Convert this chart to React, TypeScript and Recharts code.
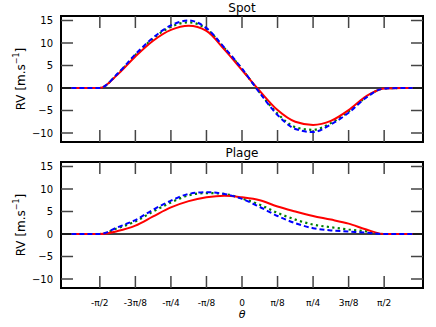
import React from "react";
import { LineChart, Line, XAxis, YAxis, ReferenceLine, ReferenceArea } from "recharts";

// theta sample positions, in units of pi/8
const thetaEighths = [-4.8, -4.5, -4, -3.5, -3, -2.5, -2, -1.5, -1, -0.5, 0, 0.5, 1, 1.5, 2, 2.5, 3, 3.5, 4, 4.5, 4.8];

const spotRed = [0, 0, 0, 3.0, 7.0, 10.5, 12.9, 13.85, 12.7, 8.6, 4.0, -0.65, -4.9, -7.5, -8.2, -7.3, -4.9, -1.8, -0.1, 0, 0];
const spotGreen = [0, 0, 0, 3.1, 7.3, 11.0, 13.6, 14.6, 13.1, 8.9, 4.2, -1.0, -5.7, -8.7, -9.3, -7.8, -5.2, -2.0, -0.1, 0, 0];
const spotBlue = [0, 0, 0, 3.2, 7.5, 11.2, 13.9, 15.0, 13.3, 9.0, 4.3, -1.1, -6.0, -9.1, -9.8, -8.1, -5.5, -2.1, -0.1, 0, 0];

const plageRed = [0, 0, 0, 0.65, 1.85, 3.9, 5.9, 7.3, 8.15, 8.5, 8.15, 7.5, 6.1, 5.0, 4.0, 3.2, 2.3, 1.0, 0, 0, 0];
const plageGreen = [0, 0, 0, 1.3, 2.8, 5.0, 7.0, 8.6, 9.1, 8.9, 7.9, 6.5, 4.7, 3.2, 2.1, 1.5, 1.0, 0.6, 0, 0, 0];
const plageBlue = [0, 0, 0, 1.5, 3.1, 5.4, 7.4, 8.9, 9.3, 8.9, 7.8, 6.0, 4.0, 2.4, 1.3, 0.8, 0.55, 0.3, 0, 0, 0];

const xTickEighths = [-4, -3, -2, -1, 0, 1, 2, 3, 4];
const xTickLabels = ["-π/2", "-3π/8", "-π/4", "-π/8", "0", "π/8", "π/4", "3π/8", "π/2"];
const yTicks = [-10, -5, 0, 5, 10, 15];

const X_MIN = -2;
const X_MAX = 2;
const Y_MIN = -12;
const Y_MAX = 16;
// inward tick length (~12px) expressed in data units
const X_TICK_LEN = 2.67;
const Y_TICK_LEN = 0.133;

const xTicks = xTickEighths.map((k) => (k * Math.PI) / 8);
const FONT = "DejaVu Sans";
const TICK = "#444";

const fmtX = (v: number) => {
  const i = xTicks.findIndex((t) => Math.abs(t - v) < 1e-6);
  return i >= 0 ? xTickLabels[i] : "";
};
const fmtY = (v: number) => (v < 0 ? "\u2212" + Math.abs(v) : String(v));

const RvLabel = (props: any) => {
  const vb = props.viewBox || {};
  const cx = 21;
  const cy = vb.y + vb.height / 2;
  return (
    <text
      x={cx}
      y={cy}
      transform={`rotate(-90 ${cx} ${cy})`}
      textAnchor="middle"
      dominantBaseline="central"
      fontFamily={FONT}
      fontSize={12}
      fill="#000"
    >
      RV [m.s
      <tspan fontSize={8} dy={-5}>
        −1
      </tspan>
      <tspan dy={5}>]</tspan>
    </text>
  );
};

type PanelProps = {
  title: string;
  titleOffset: number;
  red: number[];
  green: number[];
  blue: number[];
  top: number;
  height: number;
  marginTop: number;
  bottomHeight: number;
  showLabels: boolean;
};

const Panel = ({ title, titleOffset, red, green, blue, top, height, marginTop, bottomHeight, showLabels }: PanelProps) => {
  const rows = thetaEighths.map((k, i) => ({
    theta: (k * Math.PI) / 8,
    red: red[i],
    green: green[i],
    blue: blue[i],
  }));
  return (
    <div style={{ position: "absolute", left: 0, top, width: 436, height }}>
      <LineChart width={436} height={height} data={rows} margin={{ top: marginTop, right: 13, bottom: 0, left: 0 }}>
        <XAxis
          dataKey="theta"
          type="number"
          domain={[X_MIN, X_MAX]}
          allowDataOverflow
          ticks={xTicks}
          interval={0}
          height={bottomHeight}
          tickSize={0}
          tickMargin={12}
          tickFormatter={fmtX}
          tick={showLabels ? { fontSize: 9, fill: "#000", fontFamily: FONT } : false}
          tickLine={false}
          axisLine={false}
          label={
            showLabels
              ? { value: "θ", position: "insideBottom", offset: 9, fontSize: 11, fontStyle: "italic", fill: "#000", fontFamily: FONT }
              : undefined
          }
        />
        <YAxis
          type="number"
          domain={[Y_MIN, Y_MAX]}
          allowDataOverflow
          ticks={yTicks}
          interval={0}
          width={61}
          tickSize={0}
          tickMargin={8}
          tickFormatter={fmtY}
          tick={{ fontSize: 10, fill: "#000", fontFamily: FONT }}
          tickLine={false}
          axisLine={false}
          label={<RvLabel />}
        />
        {xTicks.map((t) => (
          <ReferenceLine
            key={"xt" + t}
            ifOverflow="visible"
            segment={[
              { x: t, y: Y_MAX },
              { x: t, y: Y_MAX - X_TICK_LEN },
            ]}
            stroke={TICK}
            strokeWidth={1.5}
          />
        ))}
        {yTicks.map((v) => (
          <ReferenceLine
            key={"yl" + v}
            ifOverflow="visible"
            segment={[
              { x: X_MIN, y: v },
              { x: X_MIN + Y_TICK_LEN, y: v },
            ]}
            stroke={TICK}
            strokeWidth={1.5}
          />
        ))}
        {xTicks.map((t) => (
          <ReferenceLine
            key={"xb" + t}
            ifOverflow="visible"
            segment={[
              { x: t, y: Y_MIN },
              { x: t, y: Y_MIN + X_TICK_LEN },
            ]}
            stroke={TICK}
            strokeWidth={1.5}
          />
        ))}
        {yTicks.map((v) => (
          <ReferenceLine
            key={"yr" + v}
            ifOverflow="visible"
            segment={[
              { x: X_MAX, y: v },
              { x: X_MAX - Y_TICK_LEN, y: v },
            ]}
            stroke={TICK}
            strokeWidth={1.5}
          />
        ))}
        <ReferenceLine y={0} stroke="#000" strokeWidth={1.5} />
        <Line type="monotone" dataKey="green" stroke="#008000" strokeWidth={2.2} strokeDasharray="2.2 3.3" dot={false} isAnimationActive={false} />
        <Line type="monotone" dataKey="red" stroke="#ff0000" strokeWidth={2} dot={false} isAnimationActive={false} />
        <Line type="monotone" dataKey="blue" stroke="#0000ff" strokeWidth={2} strokeDasharray="5 3" dot={false} isAnimationActive={false} />
        <ReferenceArea
          x1={X_MIN}
          x2={X_MAX}
          y1={Y_MIN}
          y2={Y_MAX}
          fill="none"
          fillOpacity={0}
          stroke="#000"
          strokeWidth={2}
          strokeOpacity={1}
          label={{ value: title, position: "top", offset: titleOffset, fontSize: 12, fill: "#000", fontFamily: FONT }}
        />
      </LineChart>
    </div>
  );
};

export default function App() {
  return (
    <div style={{ position: "absolute", left: 0, top: 0, width: 436, height: 327, background: "#fff" }}>
      <Panel
        title="Spot"
        titleOffset={4.5}
        red={spotRed}
        green={spotGreen}
        blue={spotBlue}
        top={0}
        height={145}
        marginTop={16}
        bottomHeight={3}
        showLabels={false}
      />
      <Panel
        title="Plage"
        titleOffset={5}
        red={plageRed}
        green={plageGreen}
        blue={plageBlue}
        top={145}
        height={182}
        marginTop={17}
        bottomHeight={39}
        showLabels={true}
      />
    </div>
  );
}
